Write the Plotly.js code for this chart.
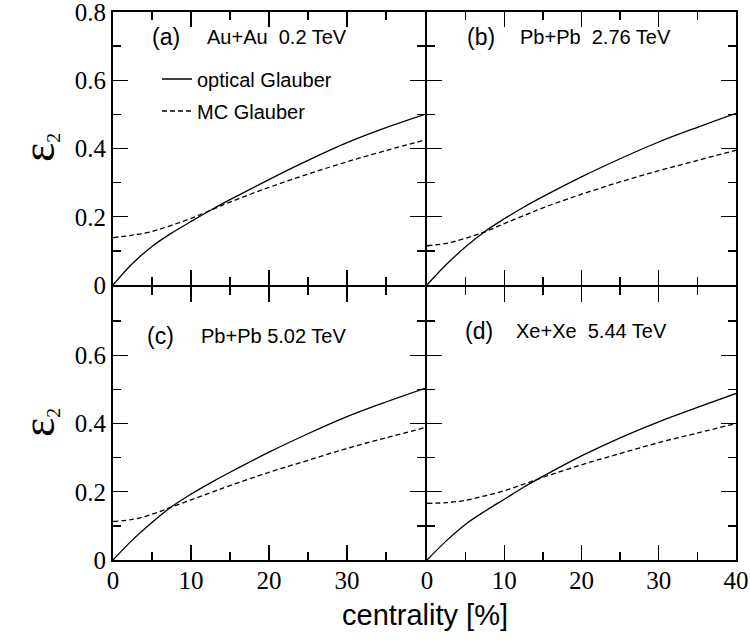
<!DOCTYPE html>
<html>
<head>
<meta charset="utf-8">
<script src="https://cdn.plot.ly/plotly-3.0.1.min.js"></script>
<style>html,body{margin:0;padding:0;background:#fff;}#chart{width:750px;height:644px;}</style>
</head>
<body>
<div id="chart"></div>
<script>
// centrality [%]
const centrality = [0, 2.5, 5, 7.5, 10, 12.5, 15, 20, 25, 30, 35, 40];

// panel (a) Au+Au 0.2 TeV
const opticalA = [0, 0.063, 0.113, 0.152, 0.186, 0.219, 0.250, 0.309, 0.365, 0.417, 0.461, 0.500];
const mcA      = [0.139, 0.146, 0.157, 0.175, 0.195, 0.219, 0.243, 0.286, 0.325, 0.361, 0.394, 0.425];
// panel (b) Pb+Pb 2.76 TeV
const opticalB = [0, 0.060, 0.112, 0.157, 0.194, 0.228, 0.259, 0.317, 0.370, 0.419, 0.462, 0.503];
const mcB      = [0.115, 0.122, 0.137, 0.156, 0.180, 0.203, 0.226, 0.266, 0.302, 0.335, 0.365, 0.395];
// panel (c) Pb+Pb 5.02 TeV
const opticalC = [0, 0.059, 0.110, 0.156, 0.193, 0.226, 0.257, 0.316, 0.370, 0.420, 0.463, 0.503];
const mcC      = [0.113, 0.119, 0.134, 0.155, 0.176, 0.197, 0.218, 0.257, 0.292, 0.327, 0.358, 0.388];
// panel (d) Xe+Xe 5.44 TeV
const opticalD = [0, 0.056, 0.105, 0.143, 0.178, 0.213, 0.245, 0.305, 0.358, 0.405, 0.447, 0.488];
const mcD      = [0.166, 0.168, 0.175, 0.188, 0.203, 0.222, 0.242, 0.279, 0.312, 0.344, 0.372, 0.400];

// tick labels
const xTicksFull = [0, 10, 20, 30, 40];
const xTicksLeft = [0, 10, 20, 30];
const yTicksTop = [0, 0.2, 0.4, 0.6, 0.8];
const yTicksBottom = [0, 0.2, 0.4, 0.6];

const panelLabels = ["(a)", "(b)", "(c)", "(d)"];
const systems = ["Au+Au\u00a0\u00a00.2 TeV", "Pb+Pb\u00a0\u00a02.76 TeV", "Pb+Pb 5.02 TeV", "Xe+Xe\u00a0\u00a05.44 TeV"];
const seriesNames = ["optical Glauber", "MC Glauber"];
const xTitle = "centrality [%]";

const opticalAll = [opticalA, opticalB, opticalC, opticalD];
const mcAll = [mcA, mcB, mcC, mcD];

const W = 750, H = 644;
const xDomains = [[113 / W, 425 / W], [427 / W, 736 / W], [113 / W, 425 / W], [427 / W, 736 / W]];
const yDomains = [[1 - 285 / H, 1 - 12 / H], [1 - 285 / H, 1 - 12 / H], [1 - 560 / H, 1 - 287 / H], [1 - 560 / H, 1 - 287 / H]];

const traces = [];
for (let i = 0; i < 4; i++) {
  const xa = i === 0 ? 'x' : 'x' + (i + 1);
  const ya = i === 0 ? 'y' : 'y' + (i + 1);
  traces.push({
    x: centrality, y: opticalAll[i], xaxis: xa, yaxis: ya, type: 'scatter', mode: 'lines',
    line: {color: '#000', width: 1.3, shape: 'spline', smoothing: 1},
    name: seriesNames[0], showlegend: i === 0, legend: 'legend'
  });
  traces.push({
    x: centrality, y: mcAll[i], xaxis: xa, yaxis: ya, type: 'scatter', mode: 'lines',
    line: {color: '#000', width: 1.3, dash: '5px,3px', shape: 'spline', smoothing: 1},
    name: seriesNames[1], showlegend: i === 0, legend: 'legend2'
  });
}

const serif = 'Liberation Serif';
const sans = 'Liberation Sans';
const tickFont = {family: serif, size: 25, color: '#000'};
function xaxisCfg(i) {
  return {
    domain: xDomains[i], range: [0, 40], anchor: i === 0 ? 'y' : 'y' + (i + 1),
    showline: true, linewidth: 2, linecolor: '#000', mirror: 'allticks',
    ticks: 'inside', ticklen: 15, tickwidth: 1.3, tickcolor: '#000',
    tickmode: 'array', tickvals: i === 2 ? xTicksLeft : xTicksFull,
    minor: {tickmode: 'linear', tick0: 0, dtick: 5, ticks: 'inside', ticklen: 8, tickwidth: 1.3, tickcolor: '#000', showgrid: false},
    showgrid: false, zeroline: false, fixedrange: true,
    showticklabels: i >= 2, tickfont: tickFont, ticklabelstandoff: -3, ticklabeloverflow: 'allow'
  };
}
function yaxisCfg(i) {
  return {
    domain: yDomains[i], range: [0, 0.8], anchor: i === 0 ? 'x' : 'x' + (i + 1),
    showline: true, linewidth: 2, linecolor: '#000', mirror: 'allticks',
    ticks: 'inside', ticklen: 15, tickwidth: 1.3, tickcolor: '#000',
    tickmode: 'array', tickvals: i >= 2 ? yTicksBottom : yTicksTop,
    minor: {tickmode: 'linear', tick0: 0, dtick: 0.1, ticks: 'inside', ticklen: 8, tickwidth: 1.3, tickcolor: '#000', showgrid: false},
    showgrid: false, zeroline: false, fixedrange: true,
    showticklabels: i === 0 || i === 2, tickfont: tickFont, ticklabeloverflow: 'allow'
  };
}

const annotations = [];
const labelPos = [[4.75, 0.727, 11.8], [4.9, 0.727, 11.8], [4.1, 0.657, 11.0], [4.6, 0.67, 11.3]];
for (let i = 0; i < 4; i++) {
  const xr_ = i === 0 ? 'x' : 'x' + (i + 1);
  const yr_ = i === 0 ? 'y' : 'y' + (i + 1);
  annotations.push({xref: xr_, yref: yr_, x: labelPos[i][0], y: labelPos[i][1], text: panelLabels[i],
    showarrow: false, xanchor: 'left', yanchor: 'middle', font: {family: sans, size: 23, color: '#000'}});
  annotations.push({xref: xr_, yref: yr_, x: labelPos[i][2], y: labelPos[i][1], text: systems[i],
    showarrow: false, xanchor: 'left', yanchor: 'middle', font: {family: sans, size: 20, color: '#000'}});
}
// y titles
[(1 - 148 / H), (1 - 423 / H)].forEach(function (yc) {
  annotations.push({xref: 'paper', yref: 'paper', x: 38 / W, y: yc, text: '<span style="font-size:46px">ε</span><sub>2</sub>',
    textangle: -90, showarrow: false, xanchor: 'center', yanchor: 'middle',
    font: {family: serif, size: 28, color: '#000'}});
});
annotations.push({xref: 'paper', yref: 'paper', x: 425 / W, y: 1 - 615 / H, text: xTitle, showarrow: false,
  xanchor: 'center', yanchor: 'middle', font: {family: sans, size: 29, color: '#000'}});

const layout = {
  width: W, height: H, margin: {l: 0, r: 0, t: 0, b: 0},
  font: {family: serif, size: 25, color: '#000'},
  paper_bgcolor: '#fff', plot_bgcolor: 'rgba(0,0,0,0)',
  showlegend: true,
  legend: {x: 157 / W, y: 1 - 79 / H, xanchor: 'left', yanchor: 'middle', bgcolor: 'rgba(0,0,0,0)',
    font: {family: sans, size: 20, color: '#000'}},
  legend2: {x: 157 / W, y: 1 - 111 / H, xanchor: 'left', yanchor: 'middle', bgcolor: 'rgba(0,0,0,0)',
    font: {family: sans, size: 20, color: '#000'}},
  annotations: annotations
};
for (let i = 0; i < 4; i++) {
  layout[i === 0 ? 'xaxis' : 'xaxis' + (i + 1)] = xaxisCfg(i);
  layout[i === 0 ? 'yaxis' : 'yaxis' + (i + 1)] = yaxisCfg(i);
}

Plotly.newPlot('chart', traces, layout, {displayModeBar: false, staticPlot: true});
</script>
</body>
</html>
